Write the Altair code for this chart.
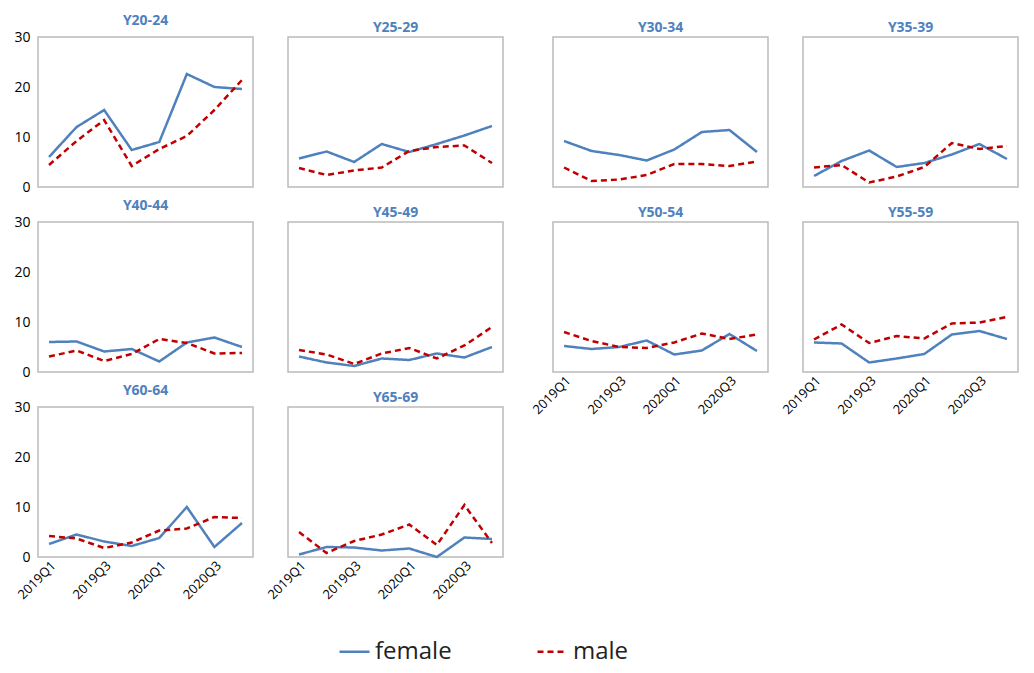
import altair as alt
import pandas as pd

quarters = ["2019Q1", "2019Q2", "2019Q3", "2019Q4", "2020Q1", "2020Q2", "2020Q3", "2020Q4"]
groups = ["Y20-24", "Y25-29", "Y30-34", "Y35-39", "Y40-44", "Y45-49",
          "Y50-54", "Y55-59", "Y60-64", "Y65-69"]

female = {
    "Y20-24": [6.0, 12.0, 15.4, 7.4, 9.0, 22.6, 20.0, 19.6],
    "Y25-29": [5.7, 7.1, 5.0, 8.6, 7.0, 8.6, 10.3, 12.2],
    "Y30-34": [9.2, 7.2, 6.4, 5.3, 7.5, 11.0, 11.4, 7.0],
    "Y35-39": [2.2, 5.2, 7.3, 4.0, 4.8, 6.5, 8.6, 5.6],
    "Y40-44": [6.0, 6.1, 4.1, 4.6, 2.1, 5.9, 6.9, 5.0],
    "Y45-49": [3.1, 1.9, 1.2, 2.7, 2.4, 3.7, 2.9, 5.0],
    "Y50-54": [5.2, 4.6, 5.0, 6.3, 3.5, 4.3, 7.6, 4.2],
    "Y55-59": [5.9, 5.7, 1.9, 2.7, 3.6, 7.5, 8.2, 6.6],
    "Y60-64": [2.6, 4.5, 3.1, 2.2, 3.8, 10.0, 2.0, 6.8],
    "Y65-69": [0.5, 2.0, 1.9, 1.3, 1.7, 0.0, 3.9, 3.6],
}
male = {
    "Y20-24": [4.4, 9.2, 13.4, 4.2, 7.6, 10.2, 15.4, 21.4],
    "Y25-29": [3.8, 2.4, 3.3, 3.9, 7.2, 8.0, 8.3, 4.8],
    "Y30-34": [3.9, 1.2, 1.5, 2.4, 4.6, 4.6, 4.2, 5.1],
    "Y35-39": [3.9, 4.4, 0.9, 2.1, 4.0, 8.8, 7.6, 8.2],
    "Y40-44": [3.1, 4.3, 2.2, 3.6, 6.6, 5.8, 3.7, 3.8],
    "Y45-49": [4.4, 3.5, 1.6, 3.7, 4.8, 2.7, 5.3, 9.0],
    "Y50-54": [8.0, 6.2, 5.0, 4.8, 5.9, 7.7, 6.6, 7.5],
    "Y55-59": [6.5, 9.5, 5.8, 7.2, 6.7, 9.7, 9.9, 11.0],
    "Y60-64": [4.2, 3.7, 1.8, 2.9, 5.3, 5.7, 8.0, 7.8],
    "Y65-69": [5.0, 0.8, 3.2, 4.5, 6.5, 2.4, 10.4, 2.8],
}

rows = []
for g in groups:
    for sex, src in (("female", female), ("male", male)):
        for q, v in zip(quarters, src[g]):
            rows.append({"group": g, "sex": sex, "quarter": q, "value": v})
df = pd.DataFrame(rows)

# panels that carry x tick labels (bottom of each column)
x_labelled = {"Y50-54", "Y55-59", "Y60-64", "Y65-69"}
y_labelled = {"Y20-24", "Y40-44", "Y60-64"}


def panel(g):
    xaxis = alt.Axis(values=["2019Q1", "2019Q3", "2020Q1", "2020Q3"],
                     labelAngle=-45, labelAlign="right", ticks=False,
                     domain=False, grid=False, labelFontSize=13,
                     labels=g in x_labelled)
    yaxis = alt.Axis(values=[0, 10, 20, 30], ticks=False, domain=False,
                     grid=False, labelFontSize=14, labelPadding=8)
    legend = alt.Legend(orient="none", direction="horizontal", legendX=300, legendY=598)
    return (
        alt.Chart(df[df.group == g], title=alt.TitleParams(
            g, fontSize=14, fontWeight="bold", color="#4F81BD", offset=2))
        .mark_line(strokeWidth=2.5)
        .encode(
            x=alt.X("quarter:N", sort=quarters, title=None,
                    scale=alt.Scale(type="point", padding=0.4), axis=xaxis),
            y=alt.Y("value:Q", title=None, scale=alt.Scale(domain=[0, 30]),
                    axis=yaxis if g in y_labelled else None),
            color=alt.Color("sex:N", title=None,
                            scale=alt.Scale(domain=["female", "male"], range=["#4F81BD", "#C00000"]),
                            legend=legend),
            strokeDash=alt.StrokeDash("sex:N", title=None,
                                      scale=alt.Scale(domain=["female", "male"], range=[[1, 0], [6, 4]]),
                                      legend=legend),
        )
        .properties(width=215, height=150)
    )


left = alt.concat(*[panel(g) for g in ["Y20-24", "Y25-29", "Y40-44", "Y45-49", "Y60-64", "Y65-69"]],
                  columns=2, spacing=35, bounds="flush")
right = alt.concat(*[panel(g) for g in ["Y30-34", "Y35-39", "Y50-54", "Y55-59"]],
                   columns=2, spacing=35, bounds="flush")

chart = (
    alt.hconcat(left, right, spacing=25)
    .resolve_scale(color="shared", strokeDash="shared")
    .configure(font="Open Sans")
    .configure_view(stroke="#BBBBBB", strokeWidth=1.5)
    .configure_legend(labelFontSize=24, symbolType="stroke", symbolSize=900,
                      symbolStrokeWidth=2.5, columnPadding=80, labelColor="#222222")
)

chart.save("out.html", embed_options={"renderer": "svg", "actions": False})
